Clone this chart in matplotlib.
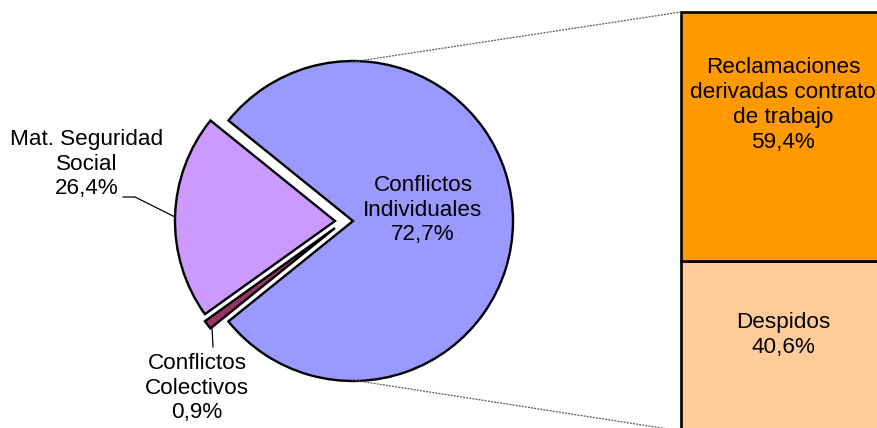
import matplotlib
matplotlib.use("Agg")
import matplotlib.pyplot as plt

# ---- data ----
pie_categories = ["Mat. Seguridad\nSocial", "Conflictos\nColectivos", "Conflictos\nIndividuales"]
pie_labels_pct = [26.4, 0.9, 72.7]          # percentages printed on the chart
pie_drawn_share = [20.7, 0.9, 78.4]         # slice sizes as drawn in the picture
pie_colors = ["#CC99FF", "#993366", "#9999FF"]

bar_categories = ["Despidos", "Reclamaciones\nderivadas contrato\nde trabajo"]
bar_pct = [40.6, 59.4]
bar_colors = ["#FFCC99", "#FF9900"]

def fmt(v):
    return f"{v:.1f}".replace(".", ",") + "%"

plt.rcParams["font.family"] = ["Liberation Sans", "DejaVu Sans"]
FS = 16.2
LS = 1.24

fig = plt.figure(figsize=(8.78, 4.28), dpi=100)
ax = fig.add_axes([0, 0, 1, 1])

# ---- pie (pixel units, y up) ----
cx, cy, R = 353, 207, 160
wedges, _ = ax.pie(pie_drawn_share, colors=pie_colors, startangle=141.1,
                   counterclock=True, center=(cx, cy), radius=R,
                   wedgeprops=dict(edgecolor="black", linewidth=1.7))
offsets = [(-18, 0), (-18, -7), (0, 0)]
for w, (dx, dy) in zip(wedges, offsets):
    w.set_center((cx + dx, cy + dy))

# ---- stacked bar ----
scale = 419 / sum(bar_pct)
bx, bw, b0 = 783, 204, -3
bottom = b0
for v, c in zip(bar_pct, bar_colors):
    h = v * scale
    ax.bar(bx, h, width=bw, bottom=bottom, color=c, edgecolor="black",
           linewidth=1.9, align="center")
    bottom += h

# connector lines (from top/bottom of the pie to bar corners)
ax.plot([cx - 1, bx - bw / 2], [cy + R - 1, b0 + sum(bar_pct) * scale],
        color="#555555", lw=0.9, ls=(0, (1.5, 1)))
ax.plot([cx - 1, bx - bw / 2], [cy - R + 1, b0],
        color="#555555", lw=0.9, ls=(0, (1.5, 1)))

# ---- labels ----
ax.text(423, 218, f"{pie_categories[2]}\n{fmt(pie_labels_pct[2])}",
        ha="center", va="center", fontsize=FS, linespacing=LS)
ax.text(87, 264, f"{pie_categories[0]}\n{fmt(pie_labels_pct[0])}",
        ha="center", va="center", fontsize=FS, linespacing=LS)
ax.text(197, 40, f"{pie_categories[1]}\n{fmt(pie_labels_pct[1])}",
        ha="center", va="center", fontsize=FS, linespacing=LS)
ax.plot([123, 135, 175], [231, 231, 211], color="black", lw=0.9)
ax.plot([212, 213], [101, 81], color="black", lw=0.9)

bar_label_y = [93, 323]
for cat, v, ym in zip(bar_categories, bar_pct, bar_label_y):
    ax.text(bx, ym, f"{cat}\n{fmt(v)}", ha="center", va="center",
            fontsize=FS, linespacing=LS)

ax.set_xlim(0, 878)
ax.set_ylim(0, 428)
ax.set_aspect("auto")
ax.axis("off")
fig.savefig("out.png", dpi=100)
